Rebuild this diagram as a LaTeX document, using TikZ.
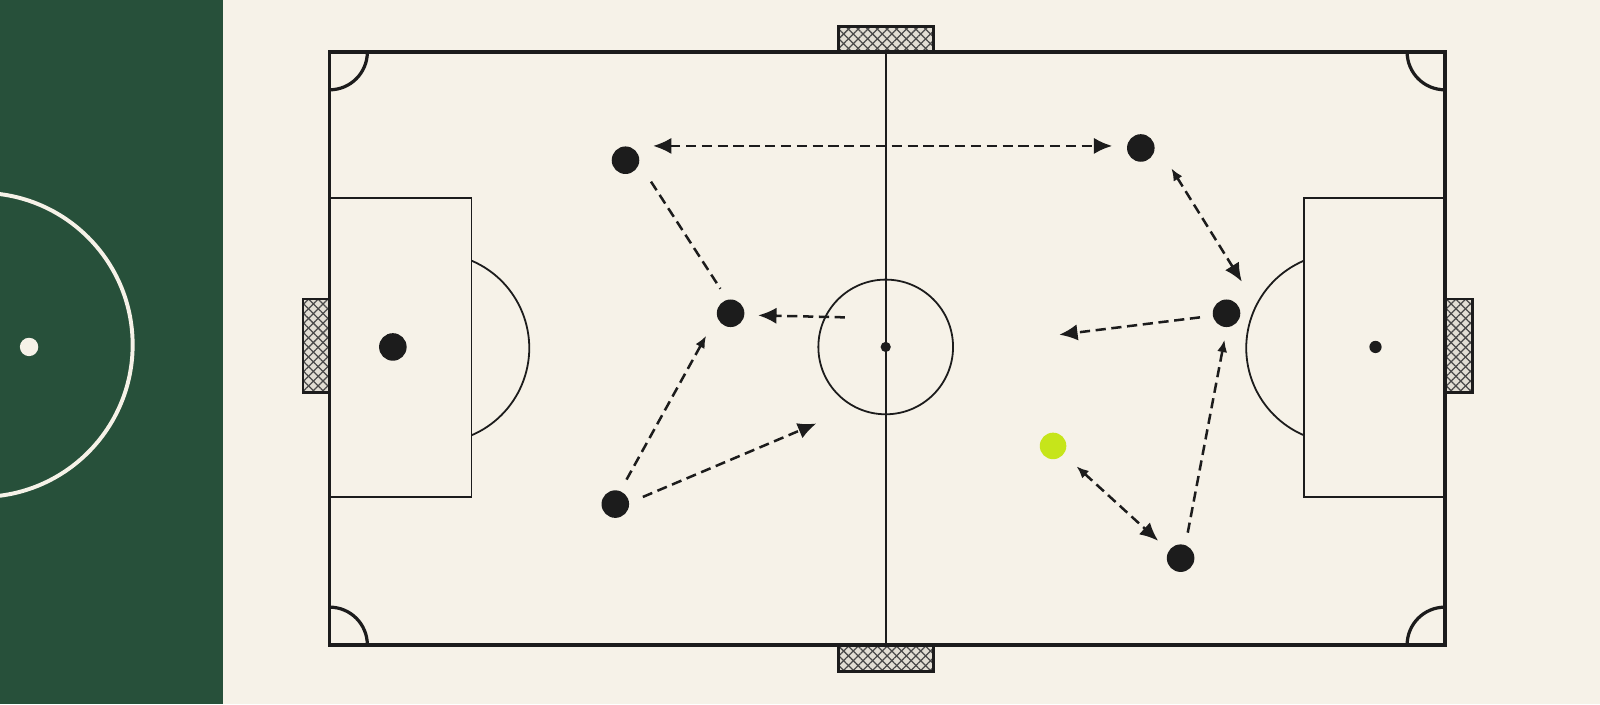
\documentclass[tikz,border=0pt]{standalone}
\usetikzlibrary{arrows.meta,patterns.meta,calc}
\definecolor{cream}{HTML}{F6F2E8}
\definecolor{panel}{HTML}{27503A}
\definecolor{ink}{HTML}{1C1C1C}
\definecolor{netbase}{HTML}{E2DED4}
\definecolor{ballgreen}{HTML}{C6E51A}
\begin{document}
\begin{tikzpicture}[x=0.01cm, y=-0.01cm]
\tikzstyle{player}=[circle, fill=ink, inner sep=0pt, minimum size=2.7mm]
\tikzstyle{pitchline}=[draw=ink, line width=0.5pt]
\tikzstyle{border}=[draw=ink, line width=0.9pt]
\tikzstyle{pass}=[draw=ink, line width=0.7pt, dash pattern=on 1mm off 0.55mm]
\tikzstyle{net}=[preaction={fill=netbase},
  preaction={pattern={Lines[angle=45, distance=1.9pt, line width=0.35pt]}, pattern color=ink!80},
  pattern={Lines[angle=-45, distance=1.9pt, line width=0.35pt]}, pattern color=ink!80,
  draw=ink, line width=0.8pt]
\tikzset{bighead/.tip={Latex[length=1.8mm, width=1.6mm]},
  smallhead/.tip={Latex[length=1.2mm, width=1mm]}}

% background and side panel
\fill[cream] (0,0) rectangle (1568,690);
\useasboundingbox (0,0) rectangle (1568,690);
\fill[panel] (0,0) rectangle (219,690);
\begin{scope}
\clip (0,0) rectangle (219,690);
\draw[cream, line width=1.1pt] (-19,338) circle[radius=149];
\end{scope}
\fill[cream] (28.5,340) circle[radius=9];

% goals
\path[net] (822,26) rectangle (915,51);
\path[net] (822,632) rectangle (915,658);
\path[net] (297,293) rectangle (323,385);
\path[net] (1416,293) rectangle (1443,385);

% pitch
\draw[border] (323,51) rectangle (1416,632);
\draw[pitchline] (868,51) -- (868,632);
\draw[pitchline] (868,340) circle[radius=66];
\fill[ink] (868,340) circle[radius=5];
\draw[pitchline] (323,194) rectangle (462,487);
\draw[pitchline] (1278,194) rectangle (1416,487);
\draw[pitchline] (462,255.4) arc[start angle=-67, end angle=67, radius=93];
\draw[pitchline] (1278,255.4) arc[start angle=247, end angle=113, radius=93];
\fill[ink] (1348,340) circle[radius=6];
\draw[border] (360,51) arc[start angle=0, end angle=90, radius=37];
\draw[border] (1379,51) arc[start angle=180, end angle=90, radius=37];
\draw[border] (360,632) arc[start angle=0, end angle=-90, radius=37];
\draw[border] (1379,632) arc[start angle=180, end angle=270, radius=37];

% players and ball
\node(keeper)[player] at (385,340) {};
\node(p1)[player] at (613,157) {};
\node(p2)[player] at (1118,145) {};
\node(p3)[player] at (716,307) {};
\node(p4)[player] at (1202,307) {};
\node(p5)[player] at (603,494) {};
\node(p6)[player] at (1157,547) {};
\node(ball)[circle, fill=ballgreen, inner sep=0pt, minimum size=2.6mm] at (1032,437) {};
\coordinate (kickoff) at (828,311);
\coordinate (run1) at (800,415);
\coordinate (run2) at (1038,328);

% passes
\draw[pass, bighead-bighead] ($(p1)+(27,-14)$) -- ($(p2)+(-28,-2)$);
\draw[pass] ($(p1)+(25,21)$) -- ($(p3)+(-10,-24)$);
\draw[pass, -bighead] (kickoff) -- ($(p3)+(27,2)$);
\draw[pass, -smallhead] ($(p5)+(11,-24)$) -- ($(p3)+(-24,22)$);
\draw[pass, -bighead] ($(p5)+(27,-7)$) -- (run1);
\draw[pass, smallhead-bighead] ($(p2)+(30,20)$) -- ($(p4)+(15,-31)$);
\draw[pass, -bighead] ($(p4)+(-26,4)$) -- (run2);
\draw[pass, -smallhead] ($(p6)+(7,-25)$) -- ($(p4)+(-2,26)$);
\draw[pass, smallhead-bighead] ($(ball)+(23,20)$) -- ($(p6)+(-22,-17)$);

\end{tikzpicture}
\end{document}
